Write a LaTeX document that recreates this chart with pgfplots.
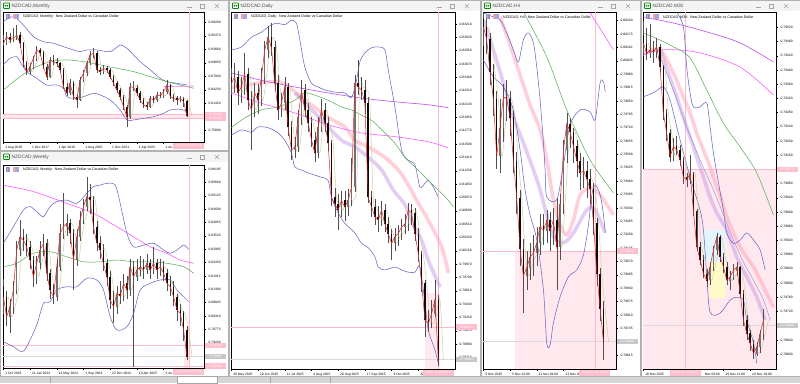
\documentclass[border=0pt]{standalone}
\usepackage{fontspec}
\setmainfont{Liberation Sans}
\usepackage{pgfplots}
\usepackage{pgfplotstable}
\pgfplotsset{compat=1.18}

\definecolor{bgcol}{RGB}{214,214,214}
\definecolor{titlecol}{RGB}{244,244,244}
\definecolor{bbcol}{RGB}{95,95,195}
\definecolor{greencol}{RGB}{80,170,80}
\definecolor{magcol}{RGB}{255,90,255}
\definecolor{purcol}{RGB}{185,80,235}
\definecolor{tancol}{RGB}{215,205,160}
\definecolor{redcol}{RGB}{230,30,30}
\definecolor{pinkband}{RGB}{255,150,175}
\definecolor{lavband}{RGB}{195,145,230}
\definecolor{pinkshade}{RGB}{255,232,238}
\definecolor{pinkline}{RGB}{255,185,200}
\definecolor{pinklab}{RGB}{255,190,205}
\definecolor{graylab}{RGB}{200,200,200}
\definecolor{wickcol}{RGB}{80,80,80}
\definecolor{bullcol}{RGB}{115,115,115}
\definecolor{bearcol}{RGB}{10,10,10}

\pgfplotsset{
  mt/.style={
    scale only axis, anchor=north west,
    axis background/.style={fill=white},
    axis line style={black, line width=0.45pt},
    ytick pos=right, yticklabel pos=right, xtick pos=bottom,
    tick align=outside, major tick length=1.6pt,
    every tick/.style={black, line width=0.35pt},
    tick label style={font=\fontsize{3.3}{3.8}\selectfont},
    yticklabel style={anchor=west, xshift=-0.4pt, /pgf/number format/fixed, /pgf/number format/fixed zerofill, /pgf/number format/precision=5},
    xticklabel style={anchor=north west, xshift=-1.5pt, yshift=0.8pt},
    /pgf/number format/assume math mode=true,
    scaled y ticks=false,
  },
  bb/.style={bbcol, line width=0.5pt, smooth, forget plot},
  band/.style={line width=3.6pt, opacity=0.45, smooth, forget plot},
  nomark/.style={only marks, mark=*, mark size=0pt, mark options={draw opacity=0, fill opacity=0}, forget plot},
}

\newcommand{\candles}[3]{%
  \addplot[nomark, error bars/.cd, y dir=both, y explicit, error mark=none, error bar style={line width=0.45pt, wickcol, opacity=1}]
    table[x=x, y expr={(\thisrow{h}+\thisrow{l})/2}, y error expr={(\thisrow{h}-\thisrow{l})/2}] {#1};
  \addplot[nomark, restrict expr to domain={\thisrow{c}-\thisrow{o}}{0:1}, error bars/.cd, y dir=both, y explicit, error mark=none, error bar style={line width=#3, line cap=butt, bullcol, opacity=1}]
    table[x=x, y expr={(\thisrow{o}+\thisrow{c})/2}, y error expr={max(abs(\thisrow{o}-\thisrow{c})/2,#2)}] {#1};
  \addplot[nomark, restrict expr to domain={\thisrow{o}-\thisrow{c}}{0.0000001:1}, error bars/.cd, y dir=both, y explicit, error mark=none, error bar style={line width=#3, line cap=butt, bearcol, opacity=1}]
    table[x=x, y expr={(\thisrow{o}+\thisrow{c})/2}, y error expr={max(abs(\thisrow{o}-\thisrow{c})/2,#2)}] {#1};
  \addplot[redcol, line width=0.5pt, forget plot] table[x=x, y=c] {#1};
}

\pgfplotstableread{
x o h l c
0 0.9460 0.9560 0.9330 0.9391
2 0.9391 0.9620 0.9350 0.9530
4 0.9530 0.9600 0.9400 0.9460
6 0.9460 0.9700 0.9420 0.9495
8 0.9495 0.9770 0.9450 0.9564
10 0.9564 0.9620 0.9300 0.9391
12 0.9391 0.9420 0.8900 0.8974
14 0.8974 0.9020 0.8740 0.8801
16 0.8801 0.8980 0.8750 0.8905
18 0.8905 0.9130 0.8860 0.9078
20 0.9078 0.9330 0.9030 0.9252
22 0.9252 0.9300 0.9120 0.9183
24 0.9183 0.9220 0.8850 0.8905
26 0.8905 0.8950 0.8620 0.8697
28 0.8697 0.9110 0.8660 0.9044
30 0.9044 0.9150 0.8940 0.9009
32 0.9009 0.9080 0.8900 0.8974
34 0.8974 0.9010 0.8780 0.8836
36 0.8836 0.8870 0.8430 0.8489
38 0.8489 0.8560 0.8290 0.8350
40 0.8350 0.8640 0.8320 0.8558
42 0.8558 0.8600 0.8210 0.8280
44 0.8280 0.8340 0.8037 0.8211
46 0.8211 0.8680 0.8180 0.8627
48 0.8627 0.8830 0.8580 0.8766
50 0.8766 0.9030 0.8720 0.8974
52 0.8974 0.9220 0.8930 0.9148
54 0.9148 0.9287 0.9080 0.9183
56 0.9183 0.9220 0.8780 0.8836
58 0.8836 0.8890 0.8730 0.8801
60 0.8801 0.8940 0.8760 0.8870
62 0.8870 0.8910 0.8770 0.8836
64 0.8836 0.8870 0.8640 0.8697
66 0.8697 0.8740 0.8500 0.8558
68 0.8558 0.8600 0.8360 0.8419
70 0.8419 0.8470 0.8220 0.8280
72 0.8280 0.8320 0.8000 0.8072
74 0.8072 0.8110 0.7656 0.7864
76 0.7864 0.8560 0.7820 0.8489
78 0.8489 0.8600 0.8400 0.8470
80 0.8470 0.8520 0.8290 0.8350
82 0.8350 0.8400 0.8150 0.8211
84 0.8211 0.8250 0.8050 0.8107
86 0.8107 0.8160 0.8010 0.8072
88 0.8072 0.8300 0.8040 0.8245
90 0.8245 0.8300 0.8150 0.8211
92 0.8211 0.8370 0.8170 0.8315
94 0.8315 0.8380 0.8250 0.8300
96 0.8300 0.8440 0.8260 0.8385
98 0.8385 0.8627 0.8340 0.8523
100 0.8523 0.8550 0.8230 0.8280
102 0.8280 0.8330 0.8170 0.8245
104 0.8245 0.8290 0.8100 0.8211
106 0.8211 0.8300 0.8160 0.8240
108 0.8240 0.8280 0.8060 0.8180
110 0.8180 0.8200 0.7860 0.7870
}\monthly

\pgfplotstableread{
x o h l c
0 0.8150 0.8180 0.8040 0.8108
2 0.8108 0.8130 0.7990 0.8028
4 0.8028 0.8100 0.7961 0.8068
6 0.8068 0.8170 0.8040 0.8135
8 0.8135 0.8330 0.8120 0.8295
10 0.8295 0.8415 0.8270 0.8348
12 0.8348 0.8380 0.8290 0.8335
14 0.8335 0.8360 0.8270 0.8308
16 0.8308 0.8330 0.8220 0.8255
18 0.8255 0.8270 0.8148 0.8188
20 0.8188 0.8270 0.8160 0.8242
22 0.8242 0.8330 0.8220 0.8295
24 0.8295 0.8360 0.8270 0.8322
26 0.8322 0.8340 0.8170 0.8202
28 0.8202 0.8220 0.8100 0.8135
30 0.8135 0.8160 0.8081 0.8108
32 0.8108 0.8260 0.8090 0.8228
34 0.8228 0.8400 0.8210 0.8362
36 0.8362 0.8522 0.8340 0.8388
38 0.8388 0.8440 0.8350 0.8402
40 0.8402 0.8420 0.8320 0.8362
42 0.8362 0.8380 0.8135 0.8255
44 0.8255 0.8380 0.8230 0.8348
46 0.8348 0.8450 0.8330 0.8415
48 0.8415 0.8500 0.8400 0.8469
50 0.8469 0.8589 0.8450 0.8509
52 0.8509 0.8560 0.8440 0.8495
54 0.8495 0.8510 0.8360 0.8388
56 0.8388 0.8410 0.8290 0.8322
58 0.8322 0.8350 0.8260 0.8295
60 0.8295 0.8320 0.8210 0.8242
62 0.8242 0.8260 0.8150 0.8188
64 0.8188 0.8210 0.8060 0.8095
66 0.8095 0.8130 0.8001 0.8068
68 0.8068 0.8150 0.8040 0.8121
70 0.8121 0.8170 0.8080 0.8110
72 0.8110 0.8200 0.8090 0.8162
74 0.8162 0.8190 0.8100 0.8135
76 0.8135 0.8260 0.8110 0.8228
78 0.8228 0.8250 0.7828 0.8188
80 0.8188 0.8260 0.8170 0.8215
82 0.8215 0.8270 0.8190 0.8228
84 0.8228 0.8260 0.8180 0.8215
86 0.8215 0.8280 0.8200 0.8242
88 0.8242 0.8260 0.8180 0.8215
90 0.8215 0.8308 0.8200 0.8242
92 0.8242 0.8260 0.8180 0.8215
94 0.8215 0.8260 0.8190 0.8228
96 0.8228 0.8250 0.8170 0.8202
98 0.8202 0.8220 0.8130 0.8162
100 0.8162 0.8190 0.8110 0.8148
102 0.8148 0.8170 0.8070 0.8108
104 0.8108 0.8120 0.8010 0.8055
106 0.8055 0.8080 0.7990 0.8041
108 0.8041 0.8050 0.7930 0.7975
110 0.7975 0.7990 0.7855 0.7868
}\weekly

\pgfplotstableread{
x o h l c
0 0.8250 0.8262 0.8225 0.8241
2 0.8241 0.8268 0.8228 0.8249
4 0.8249 0.8258 0.8212 0.8228
6 0.8228 0.8250 0.8215 0.8236
8 0.8236 0.8282 0.8225 0.8254
10 0.8254 0.8262 0.8205 0.8218
12 0.8218 0.8230 0.8151 0.8205
14 0.8205 0.8242 0.8195 0.8228
16 0.8228 0.8240 0.8200 0.8218
18 0.8218 0.8262 0.8210 0.8249
20 0.8249 0.8298 0.8240 0.8286
22 0.8286 0.8318 0.8275 0.8303
24 0.8303 0.8322 0.8278 0.8290
26 0.8290 0.8298 0.8230 0.8241
28 0.8241 0.8252 0.8192 0.8205
30 0.8205 0.8228 0.8195 0.8214
32 0.8214 0.8250 0.8205 0.8236
34 0.8236 0.8242 0.8170 0.8182
36 0.8182 0.8190 0.8138 0.8151
38 0.8151 0.8168 0.8140 0.8155
40 0.8155 0.8205 0.8148 0.8195
42 0.8195 0.8245 0.8185 0.8232
44 0.8232 0.8240 0.8195 0.8205
46 0.8205 0.8215 0.8175 0.8187
48 0.8187 0.8195 0.8155 0.8165
50 0.8165 0.8175 0.8135 0.8147
52 0.8147 0.8195 0.8140 0.8182
54 0.8182 0.8220 0.8175 0.8205
56 0.8205 0.8215 0.8175 0.8187
58 0.8187 0.8195 0.8150 0.8161
60 0.8161 0.8165 0.8075 0.8087
62 0.8087 0.8100 0.8060 0.8078
64 0.8078 0.8092 0.8043 0.8070
66 0.8070 0.8096 0.8060 0.8083
68 0.8083 0.8095 0.8055 0.8074
70 0.8074 0.8098 0.8062 0.8083
72 0.8083 0.8140 0.8075 0.8101
74 0.8101 0.8252 0.8095 0.8241
76 0.8241 0.8272 0.8225 0.8236
78 0.8236 0.8250 0.8218 0.8232
80 0.8232 0.8245 0.8200 0.8214
82 0.8214 0.8222 0.8080 0.8087
84 0.8087 0.8096 0.8060 0.8074
86 0.8074 0.8085 0.8050 0.8061
88 0.8061 0.8075 0.8040 0.8056
90 0.8056 0.8082 0.8048 0.8070
92 0.8070 0.8078 0.8040 0.8051
94 0.8051 0.8060 0.8025 0.8038
96 0.8038 0.8045 0.8002 0.8025
98 0.8025 0.8045 0.8015 0.8034
100 0.8034 0.8050 0.8022 0.8038
102 0.8038 0.8058 0.8030 0.8047
104 0.8047 0.8064 0.8038 0.8051
106 0.8051 0.8080 0.8042 0.8070
108 0.8070 0.8078 0.8050 0.8066
110 0.8066 0.8072 0.8028 0.8038
112 0.8038 0.8045 0.8000 0.8011
114 0.8011 0.8015 0.7960 0.7971
116 0.7971 0.7976 0.7898 0.7921
118 0.7921 0.7935 0.7905 0.7917
120 0.7917 0.7948 0.7910 0.7930
122 0.7930 0.7976 0.7925 0.7949
124 0.7949 0.7955 0.7860 0.7868
}\daily

\pgfplotstableread{
x o h l c
0 0.8025 0.8028 0.8012 0.8021
2 0.8021 0.8026 0.8008 0.8015
4 0.8015 0.8018 0.7993 0.7999
6 0.7999 0.8003 0.7978 0.7986
8 0.7986 0.7990 0.7952 0.7958
10 0.7958 0.7986 0.7950 0.7972
12 0.7972 0.7993 0.7965 0.7987
14 0.7987 0.7995 0.7975 0.7986
16 0.7986 0.7990 0.7968 0.7977
18 0.7977 0.7980 0.7950 0.7956
20 0.7956 0.7960 0.7930 0.7938
22 0.7938 0.7942 0.7905 0.7913
24 0.7913 0.7918 0.7882 0.7900
26 0.7900 0.7912 0.7893 0.7904
28 0.7904 0.7916 0.7898 0.7909
30 0.7909 0.7920 0.7900 0.7911
32 0.7911 0.7924 0.7905 0.7916
34 0.7916 0.7930 0.7910 0.7924
36 0.7924 0.7930 0.7915 0.7922
38 0.7922 0.7932 0.7916 0.7927
40 0.7927 0.7931 0.7912 0.7922
42 0.7922 0.7933 0.7915 0.7927
44 0.7927 0.7938 0.7893 0.7914
46 0.7914 0.7940 0.7908 0.7935
48 0.7935 0.7966 0.7930 0.7961
50 0.7961 0.7979 0.7955 0.7974
52 0.7974 0.7977 0.7962 0.7970
54 0.7970 0.7972 0.7955 0.7963
56 0.7963 0.7966 0.7948 0.7956
58 0.7956 0.7960 0.7942 0.7950
60 0.7950 0.7958 0.7943 0.7951
62 0.7951 0.7956 0.7938 0.7947
64 0.7947 0.7952 0.7935 0.7942
66 0.7942 0.7945 0.7920 0.7926
68 0.7926 0.7928 0.7895 0.7901
70 0.7901 0.7904 0.7878 0.7884
72 0.7884 0.7888 0.7859 0.7868
}\hfour

\pgfplotstableread{
x o h l c
0 0.79500 0.79540 0.79440 0.79475
2 0.79475 0.79520 0.79430 0.79447
4 0.79447 0.79530 0.79435 0.79456
6 0.79456 0.79480 0.79420 0.79450
8 0.79450 0.79490 0.79435 0.79465
10 0.79465 0.79475 0.79395 0.79409
12 0.79409 0.79415 0.79260 0.79278
14 0.79278 0.79290 0.79200 0.79222
16 0.79222 0.79235 0.79140 0.79156
18 0.79156 0.79210 0.79145 0.79184
20 0.79184 0.79215 0.79160 0.79175
22 0.79175 0.79190 0.79130 0.79146
24 0.79146 0.79155 0.79080 0.79099
26 0.79099 0.79110 0.79070 0.79090
28 0.79090 0.79160 0.79080 0.79109
30 0.79109 0.79115 0.78990 0.79005
32 0.79005 0.79010 0.78890 0.78902
34 0.78902 0.78915 0.78850 0.78865
36 0.78865 0.78880 0.78815 0.78827
38 0.78827 0.78840 0.78789 0.78808
40 0.78808 0.78860 0.78795 0.78846
42 0.78846 0.78905 0.78835 0.78893
44 0.78893 0.78940 0.78880 0.78930
46 0.78930 0.78935 0.78860 0.78874
48 0.78874 0.78885 0.78830 0.78846
50 0.78846 0.78860 0.78795 0.78808
52 0.78808 0.78835 0.78780 0.78818
54 0.78818 0.78855 0.78810 0.78836
56 0.78836 0.78860 0.78820 0.78845
58 0.78845 0.78850 0.78760 0.78771
60 0.78771 0.78780 0.78680 0.78696
62 0.78696 0.78710 0.78640 0.78658
64 0.78658 0.78670 0.78610 0.78630
66 0.78630 0.78640 0.78588 0.78602
68 0.78602 0.78635 0.78595 0.78620
70 0.78620 0.78670 0.78605 0.78658
72 0.78658 0.78729 0.78640 0.78696
}\mthirty

\newcommand{\wintitle}[3]{% x, y, text
  \draw[green!55!black, line width=0.6pt, rounded corners=0.6pt] (#1+3.5,#2+3) rectangle (#1+9.5,#2+8.5);
  \fill[green!55!black] (#1+5.5,#2+5.75) circle (0.9pt) (#1+7.5,#2+5.75) circle (0.9pt);
  \node[anchor=west, inner sep=0pt, font=\fontsize{4.8}{5}\selectfont, text=black!70] at (#1+11.5,#2+6) {#3};
}
\newcommand{\winctl}[2]{% x of minus, y center
  \draw[black!35, line width=0.4pt] (#1-2.5,#2+1.5) -- (#1+2.5,#2+1.5);
  \draw[black!35, line width=0.4pt] (#1+11.5,#2-2) rectangle (#1+15.5,#2+2);
  \draw[black!35, line width=0.4pt] (#1+26,#2-2) -- (#1+30,#2+2) (#1+26,#2+2) -- (#1+30,#2-2);
}
\newcommand{\charthead}[3]{% x of frame, y, text
  \fill[bbcol!70] (#1+2.5,#2-2.6) rectangle (#1+7,#2+2.4);
  \fill[redcol!45] (#1+3.5,#2-1.6) rectangle (#1+5,#2+0.5);
  \fill[bbcol!55] (#1+11.5,#2-2.6) rectangle (#1+16,#2+2.4);
  \fill[redcol!40] (#1+9.5,#2-2.6) rectangle (#1+11.5,#2+2.4);
  \node[anchor=west, inner sep=0pt, font=\fontsize{3.6}{4}\selectfont] at (#1+20,#2) {#3};
}

\tikzset{
  plab/.style={fill=pinklab, text=white, inner sep=0.5pt, minimum width=21pt, minimum height=5.5pt, font=\fontsize{3.3}{3.8}\selectfont},
  glab/.style={fill=graylab, text=white, inner sep=0.5pt, minimum width=21pt, minimum height=5.5pt, font=\fontsize{3.3}{3.8}\selectfont},
  dlab/.style={fill=pinklab, text=white, inner sep=0.5pt, minimum width=31pt, minimum height=6pt, font=\fontsize{3.3}{3.8}\selectfont},
}

\begin{document}
\begin{tikzpicture}[x=1pt,y=-1pt]
\useasboundingbox (0,0) rectangle (800,383);
\fill[bgcol] (0,0) rectangle (800,383);
\foreach \a/\b/\c/\d in {0/0/228/150, 0/151/228/376, 229/0/480/376, 481/0/640/376, 641/0/800/376} {
  \fill[white] (\a,\b) rectangle (\c,\d);
  \fill[titlecol] (\a,\b) rectangle (\c,\b+11);
  \draw[black!30, line width=0.4pt] (\a,\b) rectangle (\c,\d);
}
% bottom tabs
\fill[white] (177,376.5) rectangle (217,383);
\draw[black!35, line width=0.3pt] (177,376.5) rectangle (217,383);
\draw[black!35, line width=0.3pt] (50,377) -- (50,383) (270,377) -- (270,383) (330,377) -- (330,383);

\wintitle{0}{0}{NZDCAD,Monthly}
\wintitle{0}{151}{NZDCAD,Weekly}
\wintitle{229}{0}{NZDCAD,Daily}
\wintitle{481}{0}{NZDCAD,H4}
\wintitle{641}{0}{NZDCAD,M30}
\winctl{189}{6}
\winctl{189}{157}
\winctl{439}{6}
\winctl{600}{6}
\winctl{758}{6}

% ================= MONTHLY =================
\begin{axis}[mt, at={(3pt,-12pt)}, width=201pt, height=130pt,
  xmin=-0.2, xmax=120.2, ymin=0.7336, ymax=1.0042,
  ytick={0.75800,0.78610,0.81420,0.84230,0.87040,0.89850,0.92660,0.95470,0.98280},
  xtick={0,16,32,48,64,80,96},
  xticklabels={1 Aug 2016,1 Dec 2017,1 Apr 2019,1 Aug 2020,1 Dec 2021,1 Apr 2023,1 Au}]
\fill[pinkshade] (axis cs:-0.2,0.7832) rectangle (axis cs:120.2,0.7912);
\addplot[pinkline, line width=0.5pt, forget plot] coordinates {(-0.2,0.7912) (120.2,0.7912)};
\addplot[pinkline, line width=0.5pt, forget plot] coordinates {(-0.2,0.7832) (120.2,0.7832)};
\addplot[pinkline, line width=0.5pt, forget plot] coordinates {(111.2,0.7336) (111.2,1.0042)};
\addplot[bb] coordinates {(0,0.9842) (6,0.9946) (12,0.9772) (18,0.9530) (24,0.9425) (30,0.9391) (36,0.9321) (42,0.9252) (46,0.9217) (50,0.9252) (56,0.9252) (64,0.9217) (70,0.9356) (74,0.9287) (78,0.9148) (82,0.9009) (88,0.8836) (94,0.8662) (98,0.8593) (104,0.8558) (110,0.8523)};
\addplot[bb] coordinates {(0,0.8940) (4,0.9078) (8,0.9113) (10,0.9009) (14,0.8801) (20,0.8662) (26,0.8523) (32,0.8523) (36,0.8454) (38,0.8280) (42,0.8246) (48,0.8280) (54,0.8350) (58,0.8315) (64,0.8211) (70,0.8003) (74,0.7795) (78,0.7795) (84,0.7829) (90,0.7864) (96,0.7933) (100,0.8003) (106,0.8017) (110,0.7968)};
\addplot[greencol, line width=0.5pt, smooth, forget plot] coordinates {(0,0.8419) (10,0.8697) (18,0.8870) (28,0.9009) (38,0.9044) (48,0.9009) (58,0.8940) (68,0.8870) (78,0.8801) (88,0.8697) (98,0.8593) (106,0.8523) (114,0.8454)};
\addplot[magcol, line width=0.6pt, forget plot] coordinates {(96,0.8489) (114,0.8502)};
\addplot[tancol, line width=0.5pt, smooth, forget plot] table[x expr=\thisrow{x}+3, y=c] {\monthly};
\candles{\monthly}{0.0008}{1.5pt}
\coordinate (mA) at (axis cs:120.2,0.7912);
\coordinate (mB) at (axis cs:120.2,0.7832);
\coordinate (mD) at (axis cs:111.2,0.7336);
\end{axis}
\charthead{3}{17}{NZDCAD, Monthly:\ \ New Zealand Dollar vs Canadian Dollar}
\node[plab, anchor=west, xshift=1pt] at (mA) {0.79120};
\node[plab, anchor=west, xshift=1pt] at (mB) {0.78300};
\node[dlab, anchor=north, yshift=-0.6pt] at (mD) {2025.11.19 20:00};

% ================= WEEKLY =================
\begin{axis}[mt, at={(3pt,-165pt)}, width=201pt, height=203pt,
  xmin=-0.2, xmax=120.2, ymin=0.78227, ymax=0.86355,
  ytick={0.79240,0.79775,0.80310,0.80845,0.81380,0.81915,0.82450,0.82985,0.83520,0.84055,0.84590,0.85125,0.85660,0.86195},
  xtick={0,16,32,48,64,80,96},
  xticklabels={1 Oct 2023,21 Jan 2024,12 May 2024,1 Sep 2024,22 Dec 2024,13 Apr 2025,3 Au}]
\fill[pinkshade] (axis cs:108,0.78227) rectangle (axis cs:112,0.7912);
\addplot[pinkline, line width=0.5pt, forget plot] coordinates {(-0.2,0.7912) (120.2,0.7912)};
\addplot[pinkline, line width=0.5pt, forget plot] coordinates {(-0.2,0.7830) (120.2,0.7830)};
\addplot[black!15, line width=0.5pt, forget plot] coordinates {(-0.2,0.7868) (120.2,0.7868)};
\addplot[pinkline, line width=0.5pt, forget plot] coordinates {(111.2,0.78227) (111.2,0.86355)};
\addplot[magcol, line width=0.6pt, smooth, forget plot] coordinates {(0,0.8555) (18,0.8529) (38,0.8482) (54,0.8442) (68,0.8388) (78,0.8348) (88,0.8308) (98,0.8282) (106,0.8255) (114,0.8242)};
\addplot[bb] coordinates {(0,0.8322) (6,0.8388) (12,0.8455) (16,0.8469) (20,0.8449) (24,0.8429) (28,0.8469) (32,0.8489) (38,0.8495) (44,0.8482) (50,0.8522) (54,0.8549) (58,0.8555) (62,0.8562) (67,0.8555) (70,0.8482) (74,0.8362) (78,0.8308) (84,0.8315) (90,0.8322) (96,0.8295) (100,0.8282) (104,0.8295) (108,0.8315) (111,0.8298)};
\addplot[bb] coordinates {(0,0.7928) (6,0.7908) (11,0.7888) (14,0.7908) (20,0.7995) (24,0.8081) (28,0.8088) (32,0.8135) (38,0.8148) (44,0.8148) (50,0.8182) (56,0.8175) (60,0.8135) (64,0.8028) (68,0.7975) (74,0.7988) (78,0.8041) (82,0.8135) (88,0.8162) (94,0.8175) (100,0.8175) (104,0.8135) (108,0.8108) (111,0.8088)};
\addplot[greencol, line width=0.5pt, smooth, forget plot] coordinates {(0,0.8228) (8,0.8242) (18,0.8282) (28,0.8288) (38,0.8268) (48,0.8248) (58,0.8248) (68,0.8255) (78,0.8248) (88,0.8248) (98,0.8242) (108,0.8228) (114,0.8202)};
\addplot[tancol, line width=0.5pt, smooth, forget plot] table[x expr=\thisrow{x}+3, y=c] {\weekly};
\candles{\weekly}{0.0003}{1.5pt}
\coordinate (wA) at (axis cs:120.2,0.7912);
\coordinate (wB) at (axis cs:120.2,0.7830);
\coordinate (wG) at (axis cs:120.2,0.7868);
\coordinate (wD) at (axis cs:111.2,0.78227);
\end{axis}
\charthead{3}{170}{NZDCAD, Weekly:\ \ New Zealand Dollar vs Canadian Dollar}
\node[plab, anchor=west, xshift=1pt] at (wA) {0.79120};
\node[glab, anchor=west, xshift=1pt] at (wG) {0.78680};
\node[plab, anchor=west, xshift=1pt] at (wB) {0.78300};
\node[dlab, anchor=north, yshift=-0.6pt] at (wD) {2025.11.19 20:00};

% ================= DAILY =================
\begin{axis}[mt, at={(231pt,-12pt)}, width=224pt, height=357pt,
  xmin=-0.2, xmax=134, ymin=0.78553, ymax=0.83372,
  ytick={0.78710,0.78890,0.79070,0.79250,0.79430,0.79610,0.79790,0.79970,0.80150,0.80330,0.80510,0.80690,0.80870,0.81050,0.81230,0.81410,0.81590,0.81770,0.81950,0.82130,0.82310,0.82490,0.82670,0.82850,0.83030,0.83210},
  xtick={0,16,32,48,64,80,96,112},
  xticklabels={28 May 2025,19 Jun 2025,11 Jul 2025,4 Aug 2025,26 Aug 2025,17 Sep 2025,9 Oct 2025,31}]
\fill[pinkshade] (axis cs:115.8,0.78553) rectangle (axis cs:124.8,0.79579);
\addplot[pinkline, line width=0.5pt, forget plot] coordinates {(-0.2,0.7912) (134,0.7912)};
\addplot[black!15, line width=0.5pt, forget plot] coordinates {(-0.2,0.7868) (134,0.7868)};
\addplot[pinkline, line width=0.5pt, forget plot] coordinates {(124.2,0.78553) (124.2,0.83372)};
\addplot[band, pinkband] coordinates {(0,0.8235) (28,0.8243) (42,0.8222) (58,0.8195) (68,0.8182) (74,0.8164) (82,0.8155) (92,0.8141) (100,0.8124) (106,0.8104) (110,0.8087) (118,0.8056) (126,0.8020) (130,0.7985)};
\addplot[band, lavband] coordinates {(38,0.8228) (50,0.8201) (58,0.8182) (66,0.8164) (74,0.8155) (82,0.8141) (90,0.8124) (97,0.8097) (104,0.8077) (109,0.8050) (114,0.8029) (118,0.8002) (125,0.7966)};
\addplot[purcol, line width=0.6pt, smooth, forget plot] coordinates {(0,0.8255) (18,0.8245) (38,0.8236) (58,0.8228) (78,0.8221) (98,0.8216) (118,0.8212) (130,0.8208)};
\addplot[magcol, line width=0.6pt, smooth, forget plot] coordinates {(0,0.8228) (18,0.8214) (38,0.8201) (58,0.8185) (78,0.8174) (98,0.8169) (118,0.8162) (130,0.8154)};
\addplot[bb] coordinates {(0,0.8286) (6,0.8290) (12,0.8303) (18,0.8310) (24,0.8320) (28,0.8322) (32,0.8320) (36,0.8326) (39,0.8322) (41,0.8300) (44,0.8263) (48,0.8241) (52,0.8236) (56,0.8232) (62,0.8229) (68,0.8228) (72,0.8222) (75,0.8245) (77,0.8270) (80,0.8282) (84,0.8289) (88,0.8290) (92,0.8286) (94,0.8259) (98,0.8209) (102,0.8151) (106,0.8137) (110,0.8131) (113,0.8101) (116,0.8106) (118,0.8110) (121,0.8101) (124,0.8087)};
\addplot[bb] coordinates {(0,0.8171) (6,0.8178) (12,0.8175) (16,0.8182) (22,0.8181) (28,0.8174) (32,0.8164) (36,0.8147) (38,0.8128) (42,0.8124) (46,0.8120) (50,0.8117) (54,0.8114) (58,0.8110) (60,0.8087) (64,0.8066) (68,0.8052) (74,0.8039) (78,0.8025) (82,0.8019) (86,0.8007) (88,0.7993) (92,0.7989) (98,0.7993) (102,0.7989) (106,0.7986) (110,0.7986) (113,0.7993) (116,0.7944) (118,0.7908) (122,0.7881) (124,0.7863)};
\addplot[greencol, line width=0.5pt, smooth, forget plot] coordinates {(0,0.8181) (8,0.8194) (18,0.8205) (28,0.8209) (38,0.8218) (44,0.8228) (50,0.8225) (58,0.8218) (66,0.8209) (72,0.8205) (78,0.8198) (84,0.8191) (92,0.8174) (98,0.8160) (104,0.8141) (110,0.8128) (118,0.8110) (124,0.8097) (130,0.8083) (133,0.8074)};
\addplot[tancol, line width=0.5pt, smooth, forget plot] table[x expr=\thisrow{x}+3, y=c] {\daily};
\candles{\daily}{0.00012}{1.5pt}
\coordinate (dA) at (axis cs:134,0.7912);
\coordinate (dG) at (axis cs:134,0.7868);
\coordinate (dD) at (axis cs:124.2,0.78553);
\end{axis}
\charthead{231}{17}{NZDCAD, Daily:\ \ New Zealand Dollar vs Canadian Dollar}
\node[plab, anchor=west, xshift=1pt] at (dA) {0.79120};
\node[glab, anchor=west, xshift=1pt] at (dG) {0.78680};
\node[dlab, anchor=north, yshift=-0.6pt] at (dD) {2025.11.19 20:00};

% ================= H4 =================
\begin{axis}[mt, at={(483pt,-12pt)}, width=133pt, height=357pt,
  xmin=-0.2, xmax=79.5, ymin=0.78547, ymax=0.80282,
  ytick={0.78615,0.78680,0.78745,0.78810,0.78875,0.78940,0.79005,0.79070,0.79135,0.79200,0.79265,0.79330,0.79395,0.79460,0.79525,0.79590,0.79655,0.79720,0.79785,0.79850,0.79915,0.79980,0.80045,0.80110,0.80175,0.80240},
  xtick={0,16,32,48,64},
  xticklabels={3 Nov 2025,5 Nov 12:00,11 Nov 04:00,13 Nov 20:00,}]
\fill[pinkshade] (axis cs:19,0.78547) rectangle (axis cs:79.5,0.7912);
\addplot[pinkline, line width=0.5pt, forget plot] coordinates {(-0.2,0.7912) (79.5,0.7912)};
\addplot[black!15, line width=0.5pt, forget plot] coordinates {(-0.2,0.7868) (79.5,0.7868)};
\addplot[pinkline, line width=0.5pt, forget plot] coordinates {(66.9,0.78547) (66.9,0.80282)};
\addplot[band, pinkband] coordinates {(10,0.80258) (16,0.80122) (22,0.79976) (28,0.79831) (34,0.79709) (38,0.79563) (42,0.79369) (46,0.79248) (50,0.79199) (54,0.79272) (58,0.79393) (64,0.79427) (70,0.79393) (74,0.79345) (78,0.79296)};
\addplot[band, lavband] coordinates {(0,0.80244) (6,0.80098) (12,0.79938) (18,0.79772) (24,0.79646) (30,0.79515) (34,0.79418) (38,0.79296) (42,0.79189) (48,0.79160) (54,0.79209) (62,0.79320) (67,0.79320) (73,0.79209)};
\addplot[greencol, line width=0.5pt, smooth, forget plot] coordinates {(24,0.80283) (38,0.80064) (50,0.79806) (64,0.79563) (78,0.79403)};
\addplot[magcol, line width=0.6pt, smooth, forget plot] coordinates {(64,0.80278) (78,0.80098)};
\addplot[bb] coordinates {(0,0.80278) (6,0.80258) (10,0.80244) (14,0.80181) (18,0.80098) (21,0.80040) (24,0.80147) (27,0.80181) (30,0.80132) (32,0.80015) (34,0.79855) (36,0.79646) (37,0.79515) (38,0.79384) (44,0.79369) (48,0.79539) (52,0.79734) (58,0.79806) (64,0.79797) (67,0.79758) (70,0.79938) (72,0.79943) (73,0.79894)};
\addplot[bb] coordinates {(0,0.80049) (6,0.79967) (12,0.79918) (18,0.79806) (22,0.79612) (25,0.79418) (28,0.79296) (32,0.79175) (36,0.78932) (38,0.78674) (40,0.78664) (42,0.78771) (46,0.78898) (51,0.78995) (56,0.79029) (60,0.79102) (63,0.79248) (65,0.79393) (67,0.79442) (70,0.79393) (72,0.79296) (73,0.79209)};
\addplot[tancol, line width=0.5pt, smooth, forget plot] table[x expr=\thisrow{x}+3, y=c] {\hfour};
\candles{\hfour}{0.00005}{1.5pt}
\coordinate (hA) at (axis cs:79.5,0.7912);
\coordinate (hG) at (axis cs:79.5,0.7868);
\coordinate (hD) at (axis cs:66.9,0.78547);
\end{axis}
\charthead{483}{17}{NZDCAD, H4:\ \ New Zealand Dollar vs Canadian Dollar}
\node[plab, anchor=west, xshift=1pt] at (hA) {0.79120};
\node[glab, anchor=west, xshift=1pt] at (hG) {0.78680};
\node[dlab, anchor=north, yshift=-0.6pt] at (hD) {2025.11.19 20:00};

% ================= M30 =================
\begin{axis}[mt, at={(643pt,-12pt)}, width=133pt, height=357pt,
  xmin=-0.2, xmax=79.5, ymin=0.78558, ymax=0.79563,
  ytick={0.78600,0.78640,0.78680,0.78720,0.78760,0.78800,0.78840,0.78880,0.78920,0.78960,0.79000,0.79040,0.79080,0.79120,0.79160,0.79200,0.79240,0.79280,0.79320,0.79360,0.79400,0.79440,0.79480,0.79520},
  xtick={0,16,32,48,64},
  xticklabels={18 Nov 2025,,\hspace{6pt}Nov 03:00,19 Nov 11:00,19 Nov 19:00}]
\fill[pinkshade] (axis cs:-0.2,0.78558) rectangle (axis cs:79.5,0.7912);
\fill[cyan!12] (axis cs:35.7,0.78859) rectangle (axis cs:48.9,0.78949);
\fill[yellow!22] (axis cs:39.9,0.78758) rectangle (axis cs:48.9,0.78859);
\addplot[pinkline, line width=0.5pt, forget plot] coordinates {(-0.2,0.7912) (79.5,0.7912)};
\addplot[black!15, line width=0.5pt, forget plot] coordinates {(-0.2,0.7868) (79.5,0.7868)};
\addplot[pinkline, line width=0.5pt, forget plot] coordinates {(25,0.78558) (25,0.79563)};
\addplot[band, pinkband] coordinates {(0,0.79448) (10,0.79456) (18,0.79391) (24,0.79324) (28,0.79279) (32,0.79222) (36,0.79174) (40,0.79127) (44,0.79070) (46,0.79048) (50,0.78986) (58,0.78901) (66,0.78845) (72,0.78789) (78,0.78732)};
\addplot[band, lavband] coordinates {(10,0.79456) (18,0.79352) (24,0.79267) (30,0.79183) (36,0.79098) (40,0.79042) (44,0.78997) (50,0.78949) (56,0.78873) (62,0.78817) (68,0.78760) (73,0.78696)};
\addplot[purcol, line width=0.6pt, smooth, forget plot] coordinates {(0,0.79549) (18,0.79532) (38,0.79507) (58,0.79476) (78,0.79422)};
\addplot[magcol, line width=0.6pt, smooth, forget plot] coordinates {(0,0.79442) (10,0.79456) (22,0.79456) (34,0.79448) (48,0.79428) (58,0.79408) (68,0.79372) (78,0.79329)};
\addplot[greencol, line width=0.5pt, smooth, forget plot] coordinates {(0,0.79504) (10,0.79484) (18,0.79465) (28,0.79434) (38,0.79343) (48,0.79250) (58,0.79183) (68,0.79110) (78,0.78991)};
\addplot[bb] coordinates {(20,0.79563) (24,0.79521) (26,0.79408) (28,0.79335) (30,0.79296) (34,0.79296) (38,0.79307) (40,0.79239) (42,0.79166) (44,0.79110) (46,0.79056) (48,0.79005) (50,0.78941) (54,0.78912) (58,0.78921) (62,0.78941) (66,0.78921) (70,0.78893) (73,0.78836)};
\addplot[bb] coordinates {(0,0.79324) (7,0.79338) (12,0.79352) (16,0.79315) (22,0.79203) (28,0.79098) (34,0.79005) (36,0.78949) (38,0.78822) (40,0.78718) (46,0.78715) (52,0.78752) (56,0.78760) (60,0.78752) (62,0.78696) (66,0.78631) (68,0.78574)};
\addplot[bbcol!70, line width=0.45pt, smooth, forget plot] coordinates {(10,0.79436) (18,0.79343) (26,0.79239) (34,0.79146) (42,0.79062) (48,0.78991) (54,0.78921) (60,0.78859) (66,0.78808) (72,0.78752) (76,0.78696)};
\addplot[tancol, line width=0.5pt, smooth, forget plot] table[x expr=\thisrow{x}+3, y=c] {\mthirty};
\candles{\mthirty}{0.00002}{1.5pt}
\coordinate (tA) at (axis cs:79.5,0.7912);
\coordinate (tG) at (axis cs:79.5,0.7868);
\coordinate (tD) at (axis cs:25,0.78558);
\end{axis}
\charthead{643}{17}{NZDCAD, M30:\ \ New Zealand Dollar vs Canadian Dollar}
\node[plab, anchor=west, xshift=1pt] at (tA) {0.79120};
\node[glab, anchor=west, xshift=1pt] at (tG) {0.78680};
\node[dlab, anchor=north, yshift=-0.6pt] at (tD) {2025.11.19 20:00};
\end{tikzpicture}
\end{document}
